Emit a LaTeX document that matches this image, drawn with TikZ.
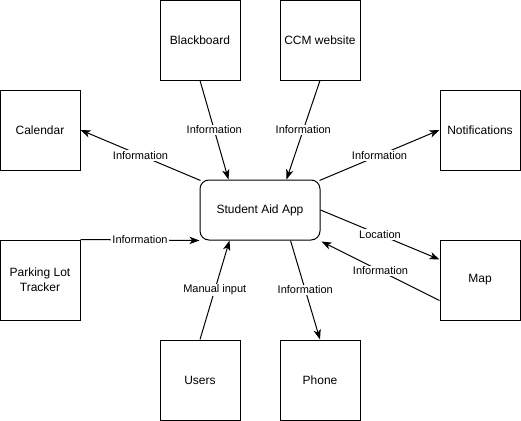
\documentclass[tikz,border=0pt]{standalone}
\usepackage{fontspec}
\setmainfont{Liberation Sans}
\usetikzlibrary{arrows.meta,calc}
\begin{document}
\begin{tikzpicture}[x=0.75pt,y=-0.75pt,
  box/.style={draw,line width=0.75pt,minimum width=60pt,minimum height=60pt,inner sep=0pt,font=\fontsize{9}{11}\selectfont,align=center},
  appbox/.style={draw,line width=0.75pt,rounded corners=6.75pt,minimum width=90pt,minimum height=45pt,inner sep=0pt,font=\fontsize{9}{11}\selectfont},
  conn/.style={line width=0.75pt,-{Stealth[length=7.5pt,width=5.5pt,inset=2pt]}},
  lbl/.style={fill=white,inner sep=1pt,font=\fontsize{8.25}{10}\selectfont}]
\useasboundingbox (0,0) rectangle (521,421);
\node[box] (bb) at (200,40) {Blackboard};
\node[box] (ccm) at (320,40) {CCM website};
\node[box] (cal) at (40,130) {Calendar};
\node[box] (notif) at (480,130) {Notifications};
\node[appbox] (app) at (260,210) {Student Aid App};
\node[box] (park) at (40,280) {Parking Lot\\Tracker};
\node[box] (map) at (480,280) {Map};
\node[box] (users) at (200,380) {Users};
\node[box] (phone) at (320,380) {Phone};

\draw[conn] (bb.south) -- node[lbl]{Information} ($(app.north west)+(29,0)$);
\draw[conn] (ccm.south) -- node[lbl]{Information} ($(app.north east)+(-34,0)$);
\draw[conn] ($(app.north west)+(1,1)$) -- node[lbl]{Information} (cal.east);
\draw[conn] ($(app.north east)+(-1,1)$) -- node[lbl]{Information} (notif.west);
\draw[conn] (park.north east) -- node[lbl]{Information} (app.south west);
\draw[conn] (app.east) -- node[lbl]{Location} ($(map.north west)+(0,20)$);
\draw[conn] ($(map.south west)+(0,-20)$) -- node[lbl]{Information} ($(app.south east)+(1,1)$);
\draw[conn] (users.north) -- node[lbl]{Manual input} ($(app.south west)+(30,0)$);
\draw[conn] ($(app.south east)+(-30,0)$) -- node[lbl]{Information} (phone.north);
\end{tikzpicture}
\end{document}
